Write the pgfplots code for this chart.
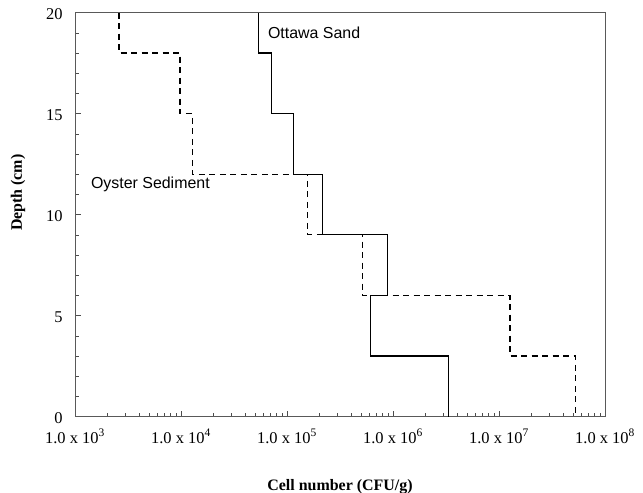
\documentclass[border=0pt]{standalone}
\usepackage{fontspec}
\setmainfont{Liberation Serif}
\newfontfamily\arial{Liberation Sans}
\usepackage{pgfplots}
\pgfplotsset{compat=1.18}

\begin{document}
\begin{tikzpicture}
\begin{axis}[
    scale only axis,
    width=530bp, height=404bp,
    xmode=log,
    xmin=1e3, xmax=1e8,
    ymin=0, ymax=20,
    xtick={1e3,1e4,1e5,1e6,1e7,1e8},
    xticklabels={1.0 x 10\textsuperscript{3},1.0 x 10\textsuperscript{4},1.0 x 10\textsuperscript{5},1.0 x 10\textsuperscript{6},1.0 x 10\textsuperscript{7},1.0 x 10\textsuperscript{8}},
    ytick={0,5,10,15,20},
    minor ytick={1,2,3,4,6,7,8,9,11,12,13,14,16,17,18,19},
    tick align=inside,
    major tick length=6bp,
    minor tick length=4bp,
    xtick pos=bottom, ytick pos=left,
    tick style={black!70, line width=0.5bp},
    axis line style={black!65, line width=0.8bp},
    ticklabel style={font=\fontsize{16.5}{18}\selectfont},
    /pgf/number format/assume math mode=true,
    xticklabel style={yshift=-9bp},
    yticklabel style={xshift=-9bp, yshift=-1bp},
    xlabel={\textbf{Cell number (CFU/g)}},
    ylabel={\textbf{Depth (cm)}},
    label style={font=\fontsize{16}{18}\selectfont},
    xlabel style={yshift=-29bp},
    ylabel style={yshift=14bp, xshift=22bp},
]
\coordinate (bl) at (rel axis cs:0,0);
\coordinate (tr) at (rel axis cs:1,1);

% Ottawa Sand (solid)
\addplot[black, line width=1.2bp] coordinates {
    (5.36e4,20) (5.36e4,18) (7.2e4,18) (7.2e4,15) (1.16e5,15) (1.16e5,12)
    (2.17e5,12) (2.17e5,9) (8.9e5,9) (8.9e5,6) (6.17e5,6) (6.17e5,3)
    (3.33e6,3) (3.33e6,0)
};

% Oyster Sediment (dashed)
\addplot[black, line width=1.2bp, dash pattern=on 6bp off 4.5bp] coordinates {
    (2.6e3,20) (2.6e3,18) (9.8e3,18) (9.8e3,15) (1.28e4,15) (1.28e4,12)
    (1.57e5,12) (1.57e5,9) (5.17e5,9) (5.17e5,6) (1.27e7,6) (1.27e7,3)
    (5.25e7,3) (5.25e7,0)
};

\node[anchor=west, inner sep=0pt, font=\arial\fontsize{16}{18}\selectfont] at (axis cs:6.6e4,19.0) {Ottawa Sand};
\node[anchor=west, inner sep=0pt, font=\arial\fontsize{16}{18}\selectfont] at (axis cs:1.41e3,11.5) {Oyster Sediment};
\end{axis}
\pgfresetboundingbox
\path ([xshift=-75bp,yshift=-76bp]bl) rectangle ([xshift=38bp,yshift=12.7bp]tr);
\end{tikzpicture}
\end{document}
